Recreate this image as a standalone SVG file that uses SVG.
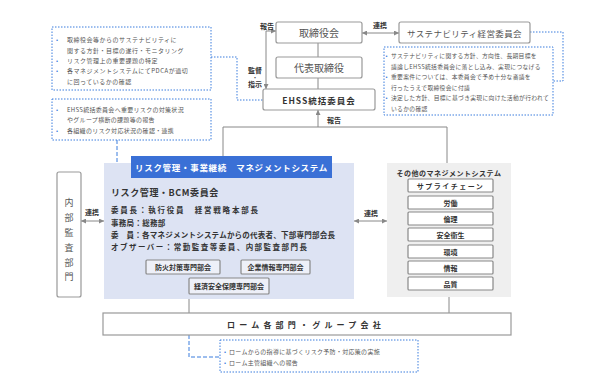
<svg xmlns="http://www.w3.org/2000/svg" width="595" height="387" viewBox="0 0 595 387">
<style>
text{font-family:"Noto Sans CJK JP","Noto Sans",sans-serif;}
.box{fill:#fff;stroke:#999;stroke-width:1.2;}
.t1{font-size:10px;fill:#555;text-anchor:middle;dominant-baseline:central;}
.tb{font-weight:bold;fill:#333;dominant-baseline:central;}
.note{fill:#fff;stroke:#3b7ddd;stroke-width:1;stroke-dasharray:1.5 1.5;}
.nt{font-size:6px;fill:#555;dominant-baseline:central;}
.bl{fill:#3b7ddd;font-size:6px;dominant-baseline:central;}
.ln{fill:none;stroke:#888;stroke-width:1;}
.dl{fill:none;stroke:#3b7ddd;stroke-width:1;stroke-dasharray:1.5 1.5;}
.dd{fill:none;stroke:#3b7ddd;stroke-width:1;stroke-dasharray:4 2;}
.sb{fill:#fff;stroke:#888;stroke-width:1.2;}
.sbp{fill:#eef0f8;stroke:#888;stroke-width:1.2;}
.st{font-size:7px;font-weight:bold;fill:#333;text-anchor:middle;dominant-baseline:central;}
.lab{font-size:7px;font-weight:bold;fill:#333;text-anchor:middle;dominant-baseline:central;}
</style>
<defs>
<marker id="ar" viewBox="0 0 6 6" refX="6" refY="3" markerWidth="5" markerHeight="5" orient="auto-start-reverse"><path d="M0,0 L6,3 L0,6 z" fill="#888"/></marker>
</defs>
<rect width="595" height="387" fill="#fff"/>

<g id="connectors">
<line class="ln" x1="362" y1="33" x2="399" y2="33" marker-start="url(#ar)" marker-end="url(#ar)"/>
<line class="ln" x1="318" y1="43" x2="318" y2="57"/>
<line class="ln" x1="318" y1="78" x2="318" y2="89"/>
<path class="ln" d="M266 89 V31 H276" marker-start="url(#ar)" marker-end="url(#ar)"/>
<path class="ln" d="M223 156 V127 H447 V163"/>
<line class="ln" x1="318" y1="127" x2="318" y2="110" marker-end="url(#ar)"/>
<line class="ln" x1="81" y1="221" x2="104" y2="221" marker-start="url(#ar)" marker-end="url(#ar)"/>
<line class="ln" x1="354" y1="221" x2="387" y2="221" marker-start="url(#ar)" marker-end="url(#ar)"/>
<line class="ln" x1="189" y1="299" x2="189" y2="313"/>
<line class="ln" x1="449" y1="297" x2="449" y2="313"/>
<path class="dl" d="M211 57 H237 V100 H263"/>
<path class="dl" d="M530 32 H563 V81 H553"/>
<path class="dd" d="M117 140 V166 H130"/>
<path class="dd" d="M189 335 V357 H220"/>
<text class="lab" x="267" y="26">報告</text>
<text class="lab" x="255" y="69.5">監督</text>
<text class="lab" x="255" y="76.5" style="font-size:5px">・</text>
<text class="lab" x="255" y="83.5">指示</text>
<text class="lab" x="380" y="25">連携</text>
<text class="lab" x="334" y="120">報告</text>
<text class="lab" x="92" y="212">連携</text>
<text class="lab" x="371" y="213">連携</text>
</g>

<g id="board">
<rect class="box" x="276" y="22" width="86" height="21" rx="2"/>
<text class="t1" x="319" y="32.5">取締役会</text>
</g>
<g id="president">
<rect class="box" x="276" y="57" width="86" height="21" rx="2"/>
<text class="t1" x="319" y="67.5">代表取締役</text>
</g>
<g id="sustainability">
<rect class="box" x="399" y="22" width="131" height="21" rx="2"/>
<text class="t1" x="464.5" y="32.5" style="font-size:8.5px" letter-spacing="0.4">サステナビリティ経営委員会</text>
</g>
<g id="ehss">
<rect class="box" x="263" y="89" width="112" height="21" rx="2"/>
<text class="tb" x="319" y="99.5" text-anchor="middle" style="font-size:8.5px" letter-spacing="1">EHSS統括委員会</text>
</g>

<g id="note1">
<rect class="note" x="52" y="27" width="159" height="63"/>
<text class="bl" x="56" y="39">•</text>
<text class="nt" x="67" y="39" letter-spacing="0.5">取締役会等からのサステナビリティに</text>
<text class="nt" x="67" y="50" letter-spacing="0.5">関する方針・目標の遂行・モニタリング</text>
<text class="bl" x="56" y="60">•</text>
<text class="nt" x="67" y="60" letter-spacing="0.5">リスク管理上の重要課題の特定</text>
<text class="bl" x="56" y="70">•</text>
<text class="nt" x="67" y="70" letter-spacing="0.5">各マネジメントシステムにてPDCAが適切</text>
<text class="nt" x="67" y="81" letter-spacing="0.5">に回っているかの確認</text>
</g>
<g id="note2">
<rect class="note" x="52" y="99" width="159" height="41"/>
<text class="bl" x="56" y="109">•</text>
<text class="nt" x="67" y="109" letter-spacing="0.3">EHSS統括委員会へ重要リスクの対策状況</text>
<text class="nt" x="67" y="119" letter-spacing="0.3">やグループ横断の課題等の報告</text>
<text class="bl" x="56" y="130">•</text>
<text class="nt" x="67" y="130" letter-spacing="0.3">各組織のリスク対応状況の確認・連携</text>
</g>
<g id="note3">
<rect class="note" x="384" y="47" width="169" height="68"/>
<text class="bl" x="385.5" y="55">•</text>
<text class="nt" x="391" y="55" style="font-size:5.8px" letter-spacing="0.3">サステナビリティに関する方針、方向性、長期目標を</text>
<text class="nt" x="391" y="66" style="font-size:5.8px" letter-spacing="0.3">議論しEHSS統括委員会に落とし込み、実現につなげる</text>
<text class="bl" x="385.5" y="76">•</text>
<text class="nt" x="391" y="76" style="font-size:5.8px" letter-spacing="0.3">重要案件については、本委員会で予め十分な審議を</text>
<text class="nt" x="391" y="87" style="font-size:5.8px" letter-spacing="0.3">行ったうえで取締役会に付議</text>
<text class="bl" x="385.5" y="97">•</text>
<text class="nt" x="391" y="97" style="font-size:5.8px" letter-spacing="0.3">決定した方針、目標に基づき実現に向けた活動が行われて</text>
<text class="nt" x="391" y="108" style="font-size:5.8px" letter-spacing="0.3">いるかの確認</text>
</g>

<g id="risk-panel">
<rect x="104" y="163" width="250" height="136" fill="#dde3f3"/>
<rect x="131" y="156" width="201" height="22" fill="#3a70d6"/>
<text x="231.5" y="167" text-anchor="middle" dominant-baseline="central" style="font-size:8.5px;font-weight:bold;fill:#fff" letter-spacing="0.7">リスク管理・事業継続　マネジメントシステム</text>
<text class="tb" x="111" y="192" style="font-size:9px" letter-spacing="0.6">リスク管理・BCM委員会</text>
<text class="tb" x="111" y="209" style="font-size:7.5px" textLength="147" lengthAdjust="spacing">委員長：執行役員　経営戦略本部長</text>
<text class="tb" x="111" y="222" style="font-size:7.5px" letter-spacing="0.3">事務局：総務部</text>
<text class="tb" x="111" y="234" style="font-size:7.5px" textLength="224" lengthAdjust="spacing">委　員：各マネジメントシステムからの代表者、下部専門部会長</text>
<text class="tb" x="111" y="246" style="font-size:7.5px" textLength="196" lengthAdjust="spacing">オブザーバー：常勤監査等委員、内部監査部門長</text>
</g>
<g id="sub-fire">
<rect class="sbp" x="146" y="260" width="74" height="14" rx="1"/>
<text class="st" x="183" y="267">防火対策専門部会</text>
</g>
<g id="sub-info">
<rect class="sbp" x="241" y="260" width="69" height="14" rx="1"/>
<text class="st" x="275.5" y="267">企業情報専門部会</text>
</g>
<g id="sub-econ">
<rect class="sbp" x="189" y="278" width="80" height="16" rx="1"/>
<text class="st" x="229" y="286">経済安全保障専門部会</text>
</g>

<g id="audit">
<rect class="box" x="57" y="172" width="24" height="125" rx="2"/>
<text class="t1" x="69" y="202" style="font-size:9px">内</text>
<text class="t1" x="69" y="217" style="font-size:9px">部</text>
<text class="t1" x="69" y="232" style="font-size:9px">監</text>
<text class="t1" x="69" y="247" style="font-size:9px">査</text>
<text class="t1" x="69" y="262" style="font-size:9px">部</text>
<text class="t1" x="69" y="276" style="font-size:9px">門</text>
</g>

<g id="other-panel">
<rect x="387" y="163" width="124" height="134" fill="#efefef"/>
<text class="st" x="449" y="173" letter-spacing="0.5">その他のマネジメントシステム</text>
</g>
<g id="ms-supply"><rect class="sb" x="408" y="179" width="85" height="13" rx="1"/><text class="st" x="450.5" y="185.5" letter-spacing="1.5">サプライチェーン</text></g>
<g id="ms-labor"><rect class="sb" x="408" y="196" width="85" height="13" rx="1"/><text class="st" x="450.5" y="202.5">労働</text></g>
<g id="ms-ethics"><rect class="sb" x="408" y="212" width="85" height="13" rx="1"/><text class="st" x="450.5" y="218.5">倫理</text></g>
<g id="ms-safety"><rect class="sb" x="408" y="228" width="85" height="13" rx="1"/><text class="st" x="450.5" y="234.5">安全衛生</text></g>
<g id="ms-env"><rect class="sb" x="408" y="245" width="85" height="13" rx="1"/><text class="st" x="450.5" y="251.5">環境</text></g>
<g id="ms-info"><rect class="sb" x="408" y="261" width="85" height="13" rx="1"/><text class="st" x="450.5" y="267.5">情報</text></g>
<g id="ms-quality"><rect class="sb" x="408" y="277" width="85" height="13" rx="1"/><text class="st" x="450.5" y="283.5">品質</text></g>

<g id="rohm">
<rect x="103" y="313" width="408" height="22" fill="#fff" stroke="#999" stroke-width="1.2"/>
<text class="tb" x="306" y="324" text-anchor="middle" style="font-size:8px" letter-spacing="4.2">ローム各部門・グループ会社</text>
</g>
<g id="note4">
<rect class="note" x="220" y="340" width="198" height="32"/>
<text class="bl" x="224" y="351">•</text>
<text class="nt" x="229" y="351" letter-spacing="0.3">ロームからの指導に基づくリスク予防・対応策の実施</text>
<text class="bl" x="224" y="362">•</text>
<text class="nt" x="229" y="362" letter-spacing="0.3">ローム主管組織への報告</text>
</g>
</svg>
